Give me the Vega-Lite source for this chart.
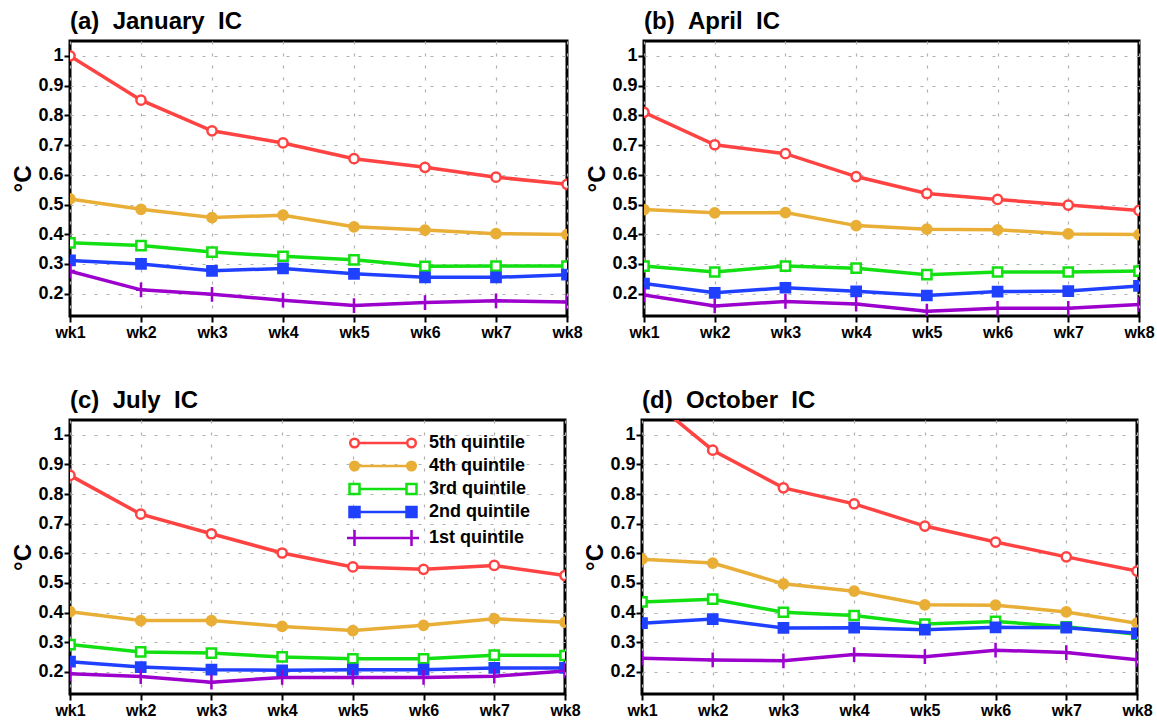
{
  "$schema": "https://vega.github.io/schema/vega-lite/v6.json",
  "padding": {"left": 10, "top": 8, "right": 5, "bottom": 5},
  "background": "white",
  "data": {"values": [
    {"p":"a","q":"5th quintile","w":"wk1","v":1.0},{"p":"a","q":"5th quintile","w":"wk2","v":0.851},{"p":"a","q":"5th quintile","w":"wk3","v":0.748},{"p":"a","q":"5th quintile","w":"wk4","v":0.707},{"p":"a","q":"5th quintile","w":"wk5","v":0.654},{"p":"a","q":"5th quintile","w":"wk6","v":0.625},{"p":"a","q":"5th quintile","w":"wk7","v":0.592},{"p":"a","q":"5th quintile","w":"wk8","v":0.568},
    {"p":"a","q":"4th quintile","w":"wk1","v":0.519},{"p":"a","q":"4th quintile","w":"wk2","v":0.484},{"p":"a","q":"4th quintile","w":"wk3","v":0.456},{"p":"a","q":"4th quintile","w":"wk4","v":0.464},{"p":"a","q":"4th quintile","w":"wk5","v":0.425},{"p":"a","q":"4th quintile","w":"wk6","v":0.414},{"p":"a","q":"4th quintile","w":"wk7","v":0.402},{"p":"a","q":"4th quintile","w":"wk8","v":0.399},
    {"p":"a","q":"3rd quintile","w":"wk1","v":0.371},{"p":"a","q":"3rd quintile","w":"wk2","v":0.362},{"p":"a","q":"3rd quintile","w":"wk3","v":0.340},{"p":"a","q":"3rd quintile","w":"wk4","v":0.326},{"p":"a","q":"3rd quintile","w":"wk5","v":0.314},{"p":"a","q":"3rd quintile","w":"wk6","v":0.292},{"p":"a","q":"3rd quintile","w":"wk7","v":0.293},{"p":"a","q":"3rd quintile","w":"wk8","v":0.293},
    {"p":"a","q":"2nd quintile","w":"wk1","v":0.312},{"p":"a","q":"2nd quintile","w":"wk2","v":0.300},{"p":"a","q":"2nd quintile","w":"wk3","v":0.277},{"p":"a","q":"2nd quintile","w":"wk4","v":0.285},{"p":"a","q":"2nd quintile","w":"wk5","v":0.267},{"p":"a","q":"2nd quintile","w":"wk6","v":0.255},{"p":"a","q":"2nd quintile","w":"wk7","v":0.255},{"p":"a","q":"2nd quintile","w":"wk8","v":0.264},
    {"p":"a","q":"1st quintile","w":"wk1","v":0.276},{"p":"a","q":"1st quintile","w":"wk2","v":0.213},{"p":"a","q":"1st quintile","w":"wk3","v":0.198},{"p":"a","q":"1st quintile","w":"wk4","v":0.178},{"p":"a","q":"1st quintile","w":"wk5","v":0.160},{"p":"a","q":"1st quintile","w":"wk6","v":0.170},{"p":"a","q":"1st quintile","w":"wk7","v":0.176},{"p":"a","q":"1st quintile","w":"wk8","v":0.172},
    {"p":"b","q":"5th quintile","w":"wk1","v":0.810},{"p":"b","q":"5th quintile","w":"wk2","v":0.701},{"p":"b","q":"5th quintile","w":"wk3","v":0.671},{"p":"b","q":"5th quintile","w":"wk4","v":0.594},{"p":"b","q":"5th quintile","w":"wk5","v":0.537},{"p":"b","q":"5th quintile","w":"wk6","v":0.517},{"p":"b","q":"5th quintile","w":"wk7","v":0.498},{"p":"b","q":"5th quintile","w":"wk8","v":0.480},
    {"p":"b","q":"4th quintile","w":"wk1","v":0.483},{"p":"b","q":"4th quintile","w":"wk2","v":0.472},{"p":"b","q":"4th quintile","w":"wk3","v":0.473},{"p":"b","q":"4th quintile","w":"wk4","v":0.429},{"p":"b","q":"4th quintile","w":"wk5","v":0.417},{"p":"b","q":"4th quintile","w":"wk6","v":0.415},{"p":"b","q":"4th quintile","w":"wk7","v":0.401},{"p":"b","q":"4th quintile","w":"wk8","v":0.399},
    {"p":"b","q":"3rd quintile","w":"wk1","v":0.293},{"p":"b","q":"3rd quintile","w":"wk2","v":0.273},{"p":"b","q":"3rd quintile","w":"wk3","v":0.293},{"p":"b","q":"3rd quintile","w":"wk4","v":0.286},{"p":"b","q":"3rd quintile","w":"wk5","v":0.264},{"p":"b","q":"3rd quintile","w":"wk6","v":0.273},{"p":"b","q":"3rd quintile","w":"wk7","v":0.273},{"p":"b","q":"3rd quintile","w":"wk8","v":0.276},
    {"p":"b","q":"2nd quintile","w":"wk1","v":0.234},{"p":"b","q":"2nd quintile","w":"wk2","v":0.203},{"p":"b","q":"2nd quintile","w":"wk3","v":0.220},{"p":"b","q":"2nd quintile","w":"wk4","v":0.208},{"p":"b","q":"2nd quintile","w":"wk5","v":0.194},{"p":"b","q":"2nd quintile","w":"wk6","v":0.207},{"p":"b","q":"2nd quintile","w":"wk7","v":0.209},{"p":"b","q":"2nd quintile","w":"wk8","v":0.226},
    {"p":"b","q":"1st quintile","w":"wk1","v":0.196},{"p":"b","q":"1st quintile","w":"wk2","v":0.159},{"p":"b","q":"1st quintile","w":"wk3","v":0.174},{"p":"b","q":"1st quintile","w":"wk4","v":0.165},{"p":"b","q":"1st quintile","w":"wk5","v":0.141},{"p":"b","q":"1st quintile","w":"wk6","v":0.151},{"p":"b","q":"1st quintile","w":"wk7","v":0.151},{"p":"b","q":"1st quintile","w":"wk8","v":0.164},
    {"p":"c","q":"5th quintile","w":"wk1","v":0.863},{"p":"c","q":"5th quintile","w":"wk2","v":0.732},{"p":"c","q":"5th quintile","w":"wk3","v":0.666},{"p":"c","q":"5th quintile","w":"wk4","v":0.601},{"p":"c","q":"5th quintile","w":"wk5","v":0.554},{"p":"c","q":"5th quintile","w":"wk6","v":0.546},{"p":"c","q":"5th quintile","w":"wk7","v":0.559},{"p":"c","q":"5th quintile","w":"wk8","v":0.525},
    {"p":"c","q":"4th quintile","w":"wk1","v":0.403},{"p":"c","q":"4th quintile","w":"wk2","v":0.373},{"p":"c","q":"4th quintile","w":"wk3","v":0.373},{"p":"c","q":"4th quintile","w":"wk4","v":0.353},{"p":"c","q":"4th quintile","w":"wk5","v":0.339},{"p":"c","q":"4th quintile","w":"wk6","v":0.357},{"p":"c","q":"4th quintile","w":"wk7","v":0.379},{"p":"c","q":"4th quintile","w":"wk8","v":0.367},
    {"p":"c","q":"3rd quintile","w":"wk1","v":0.292},{"p":"c","q":"3rd quintile","w":"wk2","v":0.267},{"p":"c","q":"3rd quintile","w":"wk3","v":0.263},{"p":"c","q":"3rd quintile","w":"wk4","v":0.250},{"p":"c","q":"3rd quintile","w":"wk5","v":0.244},{"p":"c","q":"3rd quintile","w":"wk6","v":0.244},{"p":"c","q":"3rd quintile","w":"wk7","v":0.256},{"p":"c","q":"3rd quintile","w":"wk8","v":0.255},
    {"p":"c","q":"2nd quintile","w":"wk1","v":0.234},{"p":"c","q":"2nd quintile","w":"wk2","v":0.216},{"p":"c","q":"2nd quintile","w":"wk3","v":0.207},{"p":"c","q":"2nd quintile","w":"wk4","v":0.205},{"p":"c","q":"2nd quintile","w":"wk5","v":0.207},{"p":"c","q":"2nd quintile","w":"wk6","v":0.207},{"p":"c","q":"2nd quintile","w":"wk7","v":0.213},{"p":"c","q":"2nd quintile","w":"wk8","v":0.213},
    {"p":"c","q":"1st quintile","w":"wk1","v":0.193},{"p":"c","q":"1st quintile","w":"wk2","v":0.184},{"p":"c","q":"1st quintile","w":"wk3","v":0.165},{"p":"c","q":"1st quintile","w":"wk4","v":0.181},{"p":"c","q":"1st quintile","w":"wk5","v":0.181},{"p":"c","q":"1st quintile","w":"wk6","v":0.181},{"p":"c","q":"1st quintile","w":"wk7","v":0.185},{"p":"c","q":"1st quintile","w":"wk8","v":0.203},
    {"p":"d","q":"5th quintile","w":"wk1","v":1.144},{"p":"d","q":"5th quintile","w":"wk2","v":0.948},{"p":"d","q":"5th quintile","w":"wk3","v":0.821},{"p":"d","q":"5th quintile","w":"wk4","v":0.767},{"p":"d","q":"5th quintile","w":"wk5","v":0.692},{"p":"d","q":"5th quintile","w":"wk6","v":0.638},{"p":"d","q":"5th quintile","w":"wk7","v":0.588},{"p":"d","q":"5th quintile","w":"wk8","v":0.540},
    {"p":"d","q":"4th quintile","w":"wk1","v":0.580},{"p":"d","q":"4th quintile","w":"wk2","v":0.567},{"p":"d","q":"4th quintile","w":"wk3","v":0.497},{"p":"d","q":"4th quintile","w":"wk4","v":0.472},{"p":"d","q":"4th quintile","w":"wk5","v":0.426},{"p":"d","q":"4th quintile","w":"wk6","v":0.425},{"p":"d","q":"4th quintile","w":"wk7","v":0.402},{"p":"d","q":"4th quintile","w":"wk8","v":0.364},
    {"p":"d","q":"3rd quintile","w":"wk1","v":0.436},{"p":"d","q":"3rd quintile","w":"wk2","v":0.445},{"p":"d","q":"3rd quintile","w":"wk3","v":0.401},{"p":"d","q":"3rd quintile","w":"wk4","v":0.390},{"p":"d","q":"3rd quintile","w":"wk5","v":0.361},{"p":"d","q":"3rd quintile","w":"wk6","v":0.370},{"p":"d","q":"3rd quintile","w":"wk7","v":0.352},{"p":"d","q":"3rd quintile","w":"wk8","v":0.327},
    {"p":"d","q":"2nd quintile","w":"wk1","v":0.364},{"p":"d","q":"2nd quintile","w":"wk2","v":0.378},{"p":"d","q":"2nd quintile","w":"wk3","v":0.348},{"p":"d","q":"2nd quintile","w":"wk4","v":0.349},{"p":"d","q":"2nd quintile","w":"wk5","v":0.342},{"p":"d","q":"2nd quintile","w":"wk6","v":0.350},{"p":"d","q":"2nd quintile","w":"wk7","v":0.349},{"p":"d","q":"2nd quintile","w":"wk8","v":0.330},
    {"p":"d","q":"1st quintile","w":"wk1","v":0.246},{"p":"d","q":"1st quintile","w":"wk2","v":0.240},{"p":"d","q":"1st quintile","w":"wk3","v":0.237},{"p":"d","q":"1st quintile","w":"wk4","v":0.258},{"p":"d","q":"1st quintile","w":"wk5","v":0.251},{"p":"d","q":"1st quintile","w":"wk6","v":0.273},{"p":"d","q":"1st quintile","w":"wk7","v":0.265},{"p":"d","q":"1st quintile","w":"wk8","v":0.241}
  ]},
  "spacing": 45,
  "resolve": {"scale": {"color": "independent"}, "legend": {"color": "independent"}},
  "vconcat": [
    {
      "hconcat": [
        {
          "title": "(a)\u00a0\u00a0January\u00a0\u00a0IC",
          "width": 497, "height": 275,
          "transform": [{"filter": "datum.p == 'a'"}],
          "encoding": {
            "x": {"field": "w", "type": "ordinal", "scale": {"type": "point", "padding": 0}, "title": null},
            "y": {"field": "v", "type": "quantitative", "scale": {"domain": [0.125, 1.05], "nice": false, "zero": false}, "title": "°C", "axis": {"values": [0.2,0.3,0.4,0.5,0.6,0.7,0.8,0.9,1], "labelOverlap": false, "labelExpr": "datum.value == 1 ? '1' : format(datum.value, '.1f')"}}
          },
          "layer": [
            {"mark": {"type": "line", "strokeWidth": 3.5, "clip": true},
             "encoding": {
               "color": {"field": "q", "type": "nominal", "scale": {"domain": ["5th quintile","4th quintile","3rd quintile","2nd quintile","1st quintile"], "range": ["#ff4242","#e8ae36","#12e012","#2040ff","#9c00cc"]}, "legend": null}
             }},
            {"mark": {"type": "point", "clip": true, "strokeWidth": 2.5, "size": 85, "opacity": 1},
             "encoding": {
               "stroke": {"field": "q", "type": "nominal", "scale": {"domain": ["5th quintile","4th quintile","3rd quintile","2nd quintile","1st quintile"], "range": ["#ff4242","#e8ae36","#12e012","#2040ff","#9c00cc"]}, "legend": null},
               "fill": {"field": "q", "type": "nominal", "scale": {"domain": ["5th quintile","4th quintile","3rd quintile","2nd quintile","1st quintile"], "range": ["white","#e8ae36","white","#2040ff","transparent"]}, "legend": null},
               "shape": {"field": "q", "type": "nominal", "scale": {"domain": ["5th quintile","4th quintile","3rd quintile","2nd quintile","1st quintile"], "range": ["circle","circle","square","square","M0,-1.6L0,1.6M-1.1,0L1.1,0"]}, "legend": null}
             }}
          ]
        },
        {
          "title": "(b)\u00a0\u00a0April\u00a0\u00a0IC",
          "width": 495, "height": 275,
          "transform": [{"filter": "datum.p == 'b'"}],
          "encoding": {
            "x": {"field": "w", "type": "ordinal", "scale": {"type": "point", "padding": 0}, "title": null},
            "y": {"field": "v", "type": "quantitative", "scale": {"domain": [0.125, 1.05], "nice": false, "zero": false}, "title": "°C", "axis": {"values": [0.2,0.3,0.4,0.5,0.6,0.7,0.8,0.9,1], "labelOverlap": false, "labelExpr": "datum.value == 1 ? '1' : format(datum.value, '.1f')"}}
          },
          "layer": [
            {"mark": {"type": "line", "strokeWidth": 3.5, "clip": true},
             "encoding": {
               "color": {"field": "q", "type": "nominal", "scale": {"domain": ["5th quintile","4th quintile","3rd quintile","2nd quintile","1st quintile"], "range": ["#ff4242","#e8ae36","#12e012","#2040ff","#9c00cc"]}, "legend": null}
             }},
            {"mark": {"type": "point", "clip": true, "strokeWidth": 2.5, "size": 85, "opacity": 1},
             "encoding": {
               "stroke": {"field": "q", "type": "nominal", "scale": {"domain": ["5th quintile","4th quintile","3rd quintile","2nd quintile","1st quintile"], "range": ["#ff4242","#e8ae36","#12e012","#2040ff","#9c00cc"]}, "legend": null},
               "fill": {"field": "q", "type": "nominal", "scale": {"domain": ["5th quintile","4th quintile","3rd quintile","2nd quintile","1st quintile"], "range": ["white","#e8ae36","white","#2040ff","transparent"]}, "legend": null},
               "shape": {"field": "q", "type": "nominal", "scale": {"domain": ["5th quintile","4th quintile","3rd quintile","2nd quintile","1st quintile"], "range": ["circle","circle","square","square","M0,-1.6L0,1.6M-1.1,0L1.1,0"]}, "legend": null}
             }}
          ]
        }
      ],
      "spacing": 0,
      "resolve": {"scale": {"color": "independent"}, "legend": {"color": "independent"}}
    },
    {
      "hconcat": [
        {
          "title": "(c)\u00a0\u00a0July\u00a0\u00a0IC",
          "width": 495, "height": 274,
          "transform": [{"filter": "datum.p == 'c'"}],
          "encoding": {
            "x": {"field": "w", "type": "ordinal", "scale": {"type": "point", "padding": 0}, "title": null},
            "y": {"field": "v", "type": "quantitative", "scale": {"domain": [0.125, 1.05], "nice": false, "zero": false}, "title": "°C", "axis": {"values": [0.2,0.3,0.4,0.5,0.6,0.7,0.8,0.9,1], "labelOverlap": false, "labelExpr": "datum.value == 1 ? '1' : format(datum.value, '.1f')"}}
          },
          "layer": [
            {"mark": {"type": "line", "strokeWidth": 3.5, "clip": true},
             "encoding": {
               "color": {"field": "q", "type": "nominal", "scale": {"domain": ["5th quintile","4th quintile","3rd quintile","2nd quintile","1st quintile"], "range": ["#ff4242","#e8ae36","#12e012","#2040ff","#9c00cc"]},
                 "legend": {
                   "orient": "none", "legendX": 304, "legendY": 14, "title": null, "padding": 0,
                   "symbolSize": 100, "symbolStrokeWidth": 2.5, "labelOffset": 37, "rowPadding": 3,
                   "labelFont": "Liberation Sans", "labelFontSize": 18, "labelFontWeight": "bold", "labelColor": "black",
                   "encode": {"symbols": {"update": {
                     "shape": {"signal": "datum.value == '5th quintile' || datum.value == '4th quintile' ? 'M-4.84,0L4.84,0M-4.84,0A0.86,0.86,0,1,1,-6.56,0A0.86,0.86,0,1,1,-4.84,0ZM6.56,0A0.86,0.86,0,1,1,4.84,0A0.86,0.86,0,1,1,6.56,0Z' : datum.value == '1st quintile' ? 'M-7.2,0L7.2,0M-5.7,-1.6L-5.7,1.6M5.7,-1.6L5.7,1.6' : 'M-4.7,0L4.7,0M-6.7,-1L-4.7,-1L-4.7,1L-6.7,1ZM4.7,-1L6.7,-1L6.7,1L4.7,1Z'"},
                     "fill": {"signal": "datum.value == '4th quintile' ? '#e8ae36' : datum.value == '2nd quintile' ? '#2040ff' : datum.value == '1st quintile' ? 'transparent' : 'white'"},
                     "stroke": {"signal": "datum.value == '5th quintile' ? '#ff4242' : datum.value == '4th quintile' ? '#e8ae36' : datum.value == '3rd quintile' ? '#12e012' : datum.value == '2nd quintile' ? '#2040ff' : '#9c00cc'"},
                     "strokeWidth": {"value": 2.5},
                     "opacity": {"value": 1}
                   }}}
                 }}
             }},
            {"mark": {"type": "point", "clip": true, "strokeWidth": 2.5, "size": 85, "opacity": 1},
             "encoding": {
               "stroke": {"field": "q", "type": "nominal", "scale": {"domain": ["5th quintile","4th quintile","3rd quintile","2nd quintile","1st quintile"], "range": ["#ff4242","#e8ae36","#12e012","#2040ff","#9c00cc"]}, "legend": null},
               "fill": {"field": "q", "type": "nominal", "scale": {"domain": ["5th quintile","4th quintile","3rd quintile","2nd quintile","1st quintile"], "range": ["white","#e8ae36","white","#2040ff","transparent"]}, "legend": null},
               "shape": {"field": "q", "type": "nominal", "scale": {"domain": ["5th quintile","4th quintile","3rd quintile","2nd quintile","1st quintile"], "range": ["circle","circle","square","square","M0,-1.6L0,1.6M-1.1,0L1.1,0"]}, "legend": null}
             }}
          ]
        },
        {
          "title": "(d)\u00a0\u00a0October\u00a0\u00a0IC",
          "width": 495, "height": 274,
          "transform": [{"filter": "datum.p == 'd'"}],
          "encoding": {
            "x": {"field": "w", "type": "ordinal", "scale": {"type": "point", "padding": 0}, "title": null},
            "y": {"field": "v", "type": "quantitative", "scale": {"domain": [0.125, 1.05], "nice": false, "zero": false}, "title": "°C", "axis": {"values": [0.2,0.3,0.4,0.5,0.6,0.7,0.8,0.9,1], "labelOverlap": false, "labelExpr": "datum.value == 1 ? '1' : format(datum.value, '.1f')"}}
          },
          "layer": [
            {"mark": {"type": "line", "strokeWidth": 3.5, "clip": true},
             "encoding": {
               "color": {"field": "q", "type": "nominal", "scale": {"domain": ["5th quintile","4th quintile","3rd quintile","2nd quintile","1st quintile"], "range": ["#ff4242","#e8ae36","#12e012","#2040ff","#9c00cc"]}, "legend": null}
             }},
            {"mark": {"type": "point", "clip": true, "strokeWidth": 2.5, "size": 85, "opacity": 1},
             "encoding": {
               "stroke": {"field": "q", "type": "nominal", "scale": {"domain": ["5th quintile","4th quintile","3rd quintile","2nd quintile","1st quintile"], "range": ["#ff4242","#e8ae36","#12e012","#2040ff","#9c00cc"]}, "legend": null},
               "fill": {"field": "q", "type": "nominal", "scale": {"domain": ["5th quintile","4th quintile","3rd quintile","2nd quintile","1st quintile"], "range": ["white","#e8ae36","white","#2040ff","transparent"]}, "legend": null},
               "shape": {"field": "q", "type": "nominal", "scale": {"domain": ["5th quintile","4th quintile","3rd quintile","2nd quintile","1st quintile"], "range": ["circle","circle","square","square","M0,-1.6L0,1.6M-1.1,0L1.1,0"]}, "legend": null}
             }}
          ]
        }
      ],
      "spacing": 0,
      "resolve": {"scale": {"color": "independent"}, "legend": {"color": "independent"}}
    }
  ],
  "config": {
    "view": {"stroke": "black", "strokeWidth": 3},
    "axis": {
      "domain": false, "grid": true, "gridColor": "#b0b0b0", "gridDash": [3, 9], "gridWidth": 1.2,
      "labelFont": "Liberation Sans", "labelFontWeight": "bold", "labelFontSize": 18, "labelColor": "black",
      "labelOverlap": false,
      "tickColor": "black", "tickWidth": 2, "tickSize": 6,
      "titleFont": "Liberation Sans", "titleFontWeight": "bold", "titleFontSize": 24, "titleColor": "black", "titlePadding": 2
    },
    "axisX": {"labelPadding": 2, "labelFlush": false, "labelAngle": 0, "labelFontSize": 16},
    "axisY": {"labelPadding": 1},
    "title": {"anchor": "start", "frame": "group", "font": "Liberation Sans", "fontSize": 24, "fontWeight": "bold", "color": "black", "offset": 7, "dx": 0}
  }
}
